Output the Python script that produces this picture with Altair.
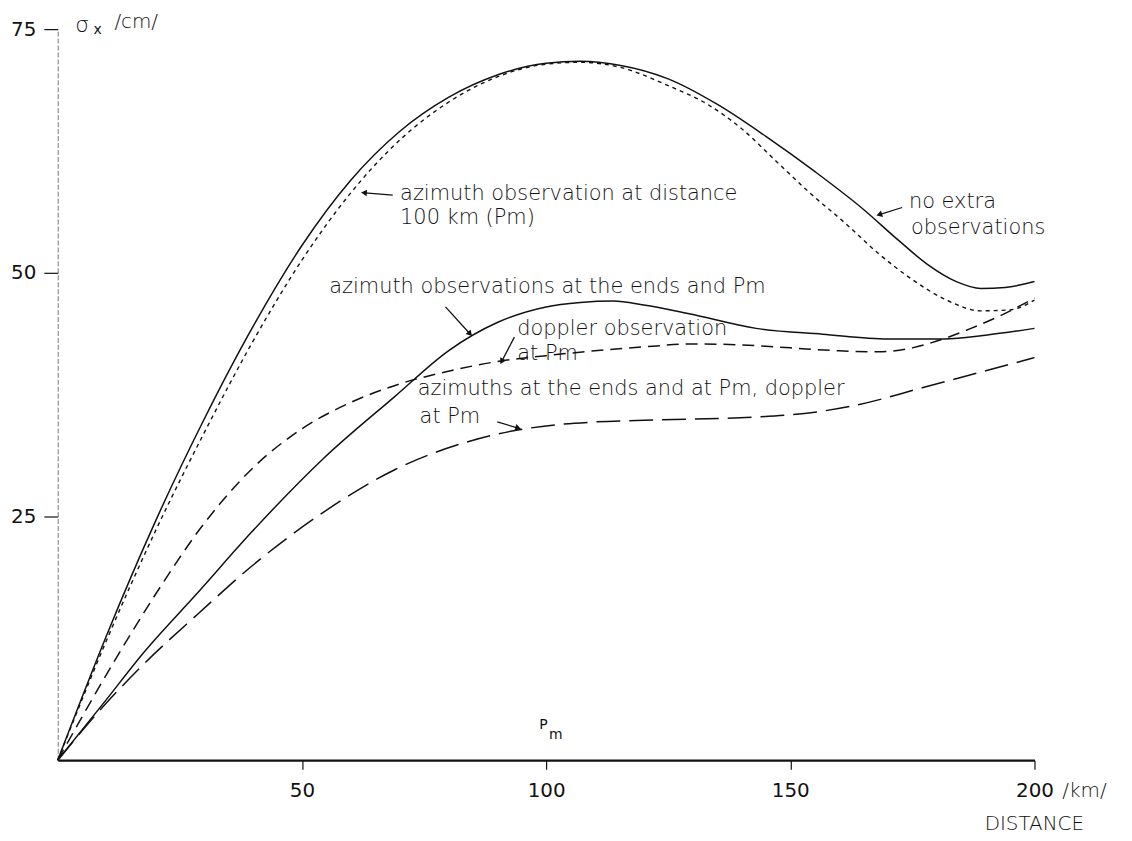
import math
import altair as alt
import pandas as pd

# ---------------- data ----------------
# no extra observations (solid, upper)
km_a = [0, 10, 20, 30, 40, 50, 60, 70, 80, 90, 100, 107, 115, 125, 135, 145, 155, 165, 172, 178, 184, 189, 194, 200]
val_a = [0, 12.8, 24.5, 35.0, 44.5, 52.8, 59.5, 64.5, 68.0, 70.3, 71.5, 71.7, 71.3, 69.9, 67.3, 64.0, 60.4, 56.5, 53.4, 50.9, 49.1, 48.4, 48.5, 49.1]

# azimuth observation at distance 100 km (Pm) (dotted)
km_b = [0, 10, 20, 30, 40, 50, 60, 70, 80, 90, 100, 107, 115, 125, 133, 140, 147, 154, 161, 168, 175, 182, 189, 195, 200]
val_b = [0, 12.3, 23.5, 33.6, 43.0, 51.3, 58.2, 63.6, 67.5, 70.1, 71.4, 71.6, 71.1, 69.2, 67.3, 64.8, 61.5, 58.2, 55.2, 52.0, 49.3, 47.2, 46.1, 46.2, 47.2]

# azimuth observations at the ends and Pm (solid, lower)
km_c = [0, 9.3, 17.7, 28.7, 39.7, 54.3, 69, 80, 90, 100, 107, 113.8, 120, 129.3, 143, 156.6, 170, 180, 190, 200]
val_c = [0, 5.8, 11.1, 17.2, 23.4, 30.9, 37.3, 42.0, 44.9, 46.5, 46.95, 47.1, 46.7, 45.8, 44.3, 43.7, 43.2, 43.2, 43.6, 44.3]

# azimuths at the ends and at Pm, doppler at Pm (long dashes)
km_d = [0, 9.3, 17.7, 28.7, 39.7, 54.3, 69, 83.5, 94.5, 102, 110, 122.6, 143, 155, 163.3, 177, 190.4, 200]
val_d = [0, 5.5, 9.9, 15.0, 19.9, 25.4, 29.8, 32.6, 33.9, 34.4, 34.7, 34.9, 35.2, 35.7, 36.4, 38.2, 40.0, 41.3]

# doppler observation at Pm (medium dashes)
km_e = [0, 10, 20, 30, 40, 50, 60, 70, 80, 90, 100, 110, 120, 130, 140, 150, 160, 168, 175, 180, 187, 193, 200]
val_e = [0, 8.8, 17.0, 24.3, 30.0, 34.0, 36.7, 38.6, 39.9, 40.9, 41.5, 42.0, 42.4, 42.7, 42.6, 42.3, 42.0, 41.9, 42.3, 43.0, 44.3, 45.6, 47.4]

x_ticks = [50, 100, 150, 200]
y_ticks = [25, 50, 75]

# annotation texts
ann_text = [
    "azimuth observation  at distance",
    "100 km (Pm)",
    "no extra",
    "observations",
    "azimuth observations at the ends and  Pm",
    "doppler observation",
    "at Pm",
    "azimuths at the ends and at Pm, doppler",
    "at Pm",
]
ann_km = [70.1, 70.1, 174.3, 174.7, 55.6, 94.1, 94.1, 73.7, 74.1]
ann_val = [58.1, 55.6, 57.3, 54.6, 48.5, 44.2, 41.7, 38.1, 35.2]

# arrows: start -> tip
arr_km1 = [68.6, 172.9, 79.4, 93.5, 90.0]
arr_val1 = [57.96, 56.7, 46.5, 43.4, 34.7]
arr_km2 = [62.9, 168.4, 84.3, 91.0, 94.1]
arr_val2 = [58.2, 56.0, 43.8, 41.0, 34.1]

# ---------------- chart ----------------
INK = "#111111"
FONT = "DejaVu Sans"
W, H = 982, 735
PX_X = W / 200.0
PX_Y = H / 75.0

xs = alt.Scale(domain=[0, 200], nice=False, zero=False)
ys = alt.Scale(domain=[0, 75], nice=False, zero=False)

x_axis = alt.Axis(values=x_ticks, tickSize=9, tickColor=INK, tickWidth=1.2,
                  domainColor=INK, domainWidth=2.2, labelFont=FONT, labelFontSize=20,
                  labelColor=INK, labelPadding=12, grid=False, title=None,
                  labelFlush=False)
y_axis = alt.Axis(values=y_ticks, tickSize=14, tickColor=INK, tickWidth=1.2,
                  domainColor="#777777", domainWidth=1, domainDash=[5, 2],
                  labelFont=FONT, labelFontSize=20, labelColor=INK, labelPadding=8,
                  grid=False, title=None, labelFlush=False)


def X(field):
    return alt.X(field, type="quantitative", scale=xs, axis=x_axis)


def Y(field):
    return alt.Y(field, type="quantitative", scale=ys, axis=y_axis)


def curve(xv, yv):
    return pd.DataFrame({"km": xv, "val": yv})


def line_layer(df, dash, width):
    kw = {}
    if dash:
        kw["strokeDash"] = dash
    return alt.Chart(df).mark_line(color=INK, strokeWidth=width, interpolate="monotone", **kw).encode(
        x=X("km"), y=Y("val"))


la = line_layer(curve(km_a, val_a), None, 1.5)
lb = line_layer(curve(km_b, val_b), [4, 4], 1.4)
lc = line_layer(curve(km_c, val_c), None, 1.5)
ld = line_layer(curve(km_d, val_d), [24, 9], 1.5)
le = line_layer(curve(km_e, val_e), [12, 7], 1.5)

ann_df = pd.DataFrame({"km": ann_km, "val": ann_val, "t": ann_text})
ann = alt.Chart(ann_df).mark_text(align="left", baseline="middle", font=FONT, fontSize=21,
                                  color=INK, fontWeight=200).encode(
    x=X("km"), y=Y("val"), text="t:N")

arr_df = pd.DataFrame({"k1": arr_km1, "v1": arr_val1, "k2": arr_km2, "v2": arr_val2})
arr_df["ang"] = [
    (math.degrees(math.atan2((k2 - k1) * PX_X, (v2 - v1) * PX_Y)) + 360) % 360
    for k1, v1, k2, v2 in zip(arr_km1, arr_val1, arr_km2, arr_val2)
]
rules = alt.Chart(arr_df).mark_rule(color=INK, strokeWidth=1.3).encode(
    x=X("k1"), y=Y("v1"), x2="k2:Q", y2="v2:Q")
heads = alt.Chart(arr_df).mark_point(shape="triangle", filled=True, size=45, color=INK, opacity=1).encode(
    x=X("k2"), y=Y("v2"), angle=alt.Angle("ang:Q", scale=None))

# axis titles and small labels
lab_text = ["/cm/", "/km/", "DISTANCE"]
lab_km = [11.6, 205.7, 189.8]
lab_val = [75.7, -3.2, -6.6]
lab_df = pd.DataFrame({"km": lab_km, "val": lab_val, "t": lab_text})
labs = alt.Chart(lab_df).mark_text(align="left", baseline="middle", font=FONT, fontSize=20,
                                   color=INK, fontWeight=200).encode(
    x=X("km"), y=Y("val"), text="t:N")

sig_df = pd.DataFrame({"km": [3.6], "val": [75.4], "t": ["σ"]})
sig = alt.Chart(sig_df).mark_text(align="left", baseline="middle", font=FONT, fontSize=22,
                                  color=INK, fontWeight=200).encode(
    x=X("km"), y=Y("val"), text="t:N")

sub_text = ["x", "P", "m"]
sub_km = [7.3, 98.6, 100.6]
sub_val = [74.9, 3.6, 2.6]
sub_df = pd.DataFrame({"km": sub_km, "val": sub_val, "t": sub_text})
subs = alt.Chart(sub_df).mark_text(align="left", baseline="middle", font=FONT, fontSize=14,
                                   color=INK).encode(
    x=X("km"), y=Y("val"), text="t:N")

chart = alt.layer(la, lb, lc, ld, le, rules, heads, ann, labs, sig, subs).properties(
    width=W, height=H,
    autosize=alt.AutoSizeParams(type="none"),
    padding={"left": 50, "top": 19, "right": 90, "bottom": 78},
    background="white",
).configure_view(stroke=None)

chart.save("out.html", embed_options={"renderer": "svg", "actions": False})
